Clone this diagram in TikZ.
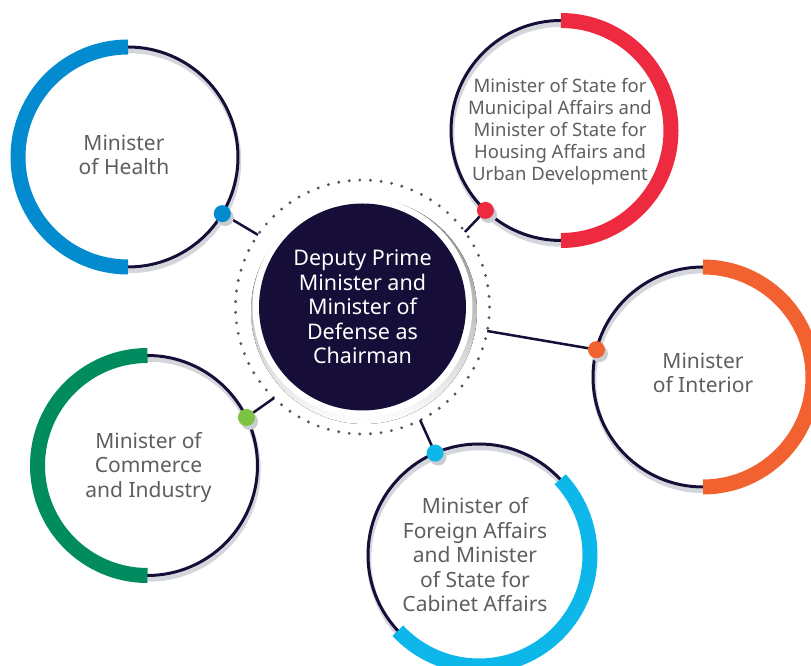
\documentclass[tikz,border=0pt]{standalone}
\usepackage{fontspec}
\setmainfont{Noto Sans}
\definecolor{navy}{HTML}{160E38}
\definecolor{shade}{HTML}{D3D7DC}
\definecolor{pinshade}{HTML}{C9CCD0}
\definecolor{txtgray}{HTML}{5E5E5E}
\definecolor{dotgray}{HTML}{55565A}
\definecolor{healthblue}{HTML}{038BD0}
\definecolor{munired}{HTML}{EE2A40}
\definecolor{intorange}{HTML}{F26230}
\definecolor{comgreen}{HTML}{008C5E}
\definecolor{comlime}{HTML}{7DC242}
\definecolor{forcyan}{HTML}{0DB7E9}
\tikzset{
  ring/.style={circle, draw=navy, line width=3pt, minimum size=220pt, inner sep=0pt},
  ringshadow/.style={draw=shade, line width=4.5pt},
  band/.style={line width=15pt},
  pin/.style={circle, fill=#1, minimum size=17pt, inner sep=0pt},
  pinshadow/.style={circle, fill=pinshade, minimum size=17pt, inner sep=0pt},
  link/.style={draw=navy, line width=2.5pt},
  roletext/.style={text=txtgray, align=center, font=\fontsize{21}{24.5}\selectfont},
  smalltext/.style={text=txtgray, align=center, font=\fontsize{18.5}{22}\selectfont},
}
\begin{document}
\begin{tikzpicture}[x=1pt,y=1pt]
\useasboundingbox (0,0) rectangle (811,666);
\clip (0,0) rectangle (811,666);

% central chairman disc with its soft shadow and dotted halo
\fill[shade] (364,355) circle[radius=113];
\fill[white] (362.5,359) circle[radius=110];
\node[circle, fill=navy, minimum size=207pt, inner sep=0pt] (chair) at (362.5,359) {};
\node[text=white, align=center, font=\fontsize{21.5}{24.5}\selectfont] at (362.5,359)
  {Deputy Prime\\Minister and\\Minister of\\Defense as\\Chairman};
\draw[dotgray, line width=3.2pt, line cap=round, dash pattern=on 0pt off 10.64pt]
  (chair.center) circle[radius=127];

% member rings: shadow, thin ring, coloured half band
\foreach \p/\r in {{(128,509)}/110, {(561,535.5)}/110, {(703,289)}/110, {(147.5,200.5)}/110, {(479,111)}/111}
  \draw[ringshadow] \p ++(1,-4) circle[radius=\r];

\node[ring] (health) at (128,509) {};
\node[ring] (muni) at (561,535.5) {};
\node[ring] (interior) at (703,289) {};
\node[ring] (commerce) at (147.5,200.5) {};
\node[ring, minimum size=222pt] (foreign) at (479,111) {};

\draw[band, healthblue] ([shift={(90:110)}]health.center) arc[start angle=90, end angle=270, radius=110];
\draw[band, munired] ([shift={(90:110)}]muni.center) arc[start angle=90, end angle=-90, radius=110];
\draw[band, intorange] ([shift={(90:110)}]interior.center) arc[start angle=90, end angle=-90, radius=110];
\draw[band, comgreen] ([shift={(90:110)}]commerce.center) arc[start angle=90, end angle=270, radius=110];
\draw[band, forcyan] ([shift={(43:111)}]foreign.center) arc[start angle=43, end angle=-137, radius=111];

% role labels
\node[roletext] at ([shift={(-4,2)}]health.center) {Minister\\of Health};
\node[smalltext] at ([shift={(-1,-1.5)}]muni.center) {Minister of State for\\Municipal Affairs and\\Minister of State for\\Housing Affairs and\\Urban Development};
\node[roletext] at ([shift={(0,4)}]interior.center) {Minister\\of Interior};
\node[roletext] at ([shift={(1,-1.5)}]commerce.center) {Minister of\\Commerce\\and Industry};
\node[roletext] at ([shift={(-4,0)}]foreign.center) {Minister of\\Foreign Affairs\\and Minister\\of State for\\Cabinet Affairs};

% connector ends on the dotted halo
\coordinate (hs) at ([shift={(145.4:127)}]chair.center);
\coordinate (ms) at ([shift={(36.2:127)}]chair.center);
\coordinate (is) at ([shift={(-10.9:127)}]chair.center);
\coordinate (cs) at ([shift={(-134.2:127)}]chair.center);
\coordinate (fs) at ([shift={(-63:127)}]chair.center);

% pins on the member rings
\coordinate (hp) at ([shift={(-31:110)}]health.center);
\coordinate (mp) at ([shift={(226.6:110)}]muni.center);
\coordinate (ip) at ([shift={(165.6:110)}]interior.center);
\coordinate (cp) at ([shift={(25.9:110)}]commerce.center);
\coordinate (fp) at ([shift={(113.3:111)}]foreign.center);

\draw[link] (hs) -- (hp);
\draw[link] (ms) -- (mp);
\draw[link] (is) -- (ip);
\draw[link] (cs) -- (cp);
\draw[link] (fs) -- (fp);

\foreach \c in {hp,mp,ip,cp,fp}
  \node[pinshadow] at ([shift={(3,-4)}]\c) {};
\node[pin=healthblue] (hdot) at (hp) {};
\node[pin=munired] (mdot) at (mp) {};
\node[pin=intorange] (idot) at (ip) {};
\node[pin=comlime] (cdot) at (cp) {};
\node[pin=forcyan] (fdot) at (fp) {};
\end{tikzpicture}
\end{document}
